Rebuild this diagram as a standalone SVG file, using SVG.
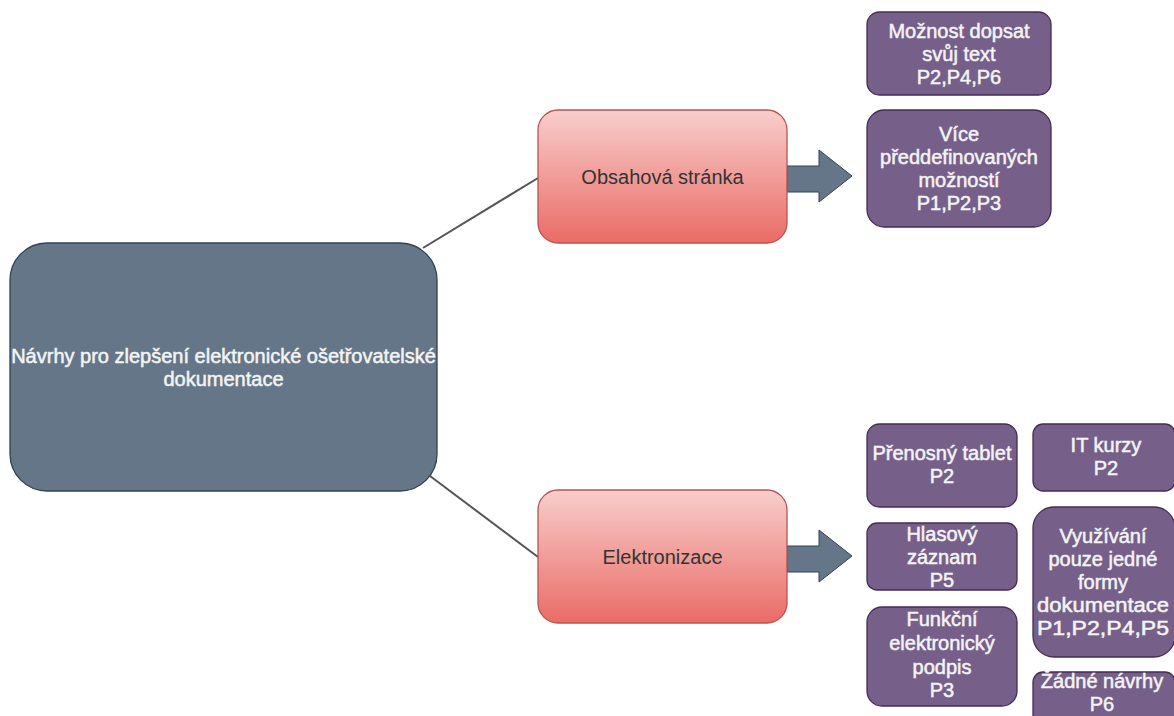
<svg xmlns="http://www.w3.org/2000/svg" width="1174" height="716" viewBox="0 0 1174 716">
  <defs>
    <linearGradient id="redFill" x1="0" y1="0" x2="0" y2="1">
      <stop offset="0" stop-color="#f8cecc"/>
      <stop offset="1" stop-color="#ea6b66"/>
    </linearGradient>
    <style>
      .root { fill: #647687; stroke: #314354; stroke-width: 1.3; }
      .topic { fill: url(#redFill); stroke: #b85450; stroke-width: 1.3; }
      .idea { fill: #76608a; stroke: #432d57; stroke-width: 1.3; }
      .arrow { fill: #647687; stroke: #314354; stroke-width: 1; }
      .link { stroke: #555555; stroke-width: 2; fill: none; }
      text { font-family: "Liberation Sans", Arial, Helvetica, sans-serif; font-size: 20px; text-anchor: middle; }
      .light { fill: #f4f4f4; stroke: #f4f4f4; stroke-width: 0.5; }
      .dark { fill: #333333; }
    </style>
  </defs>
  <rect width="1174" height="716" fill="#ffffff"/>

  <!-- connectors from the central node to the two topics -->
  <g id="connectors">
    <line class="link" x1="423" y1="248" x2="538" y2="178"/>
    <line class="link" x1="430" y1="476" x2="538" y2="557"/>
    <polygon class="arrow" points="787,166 819,166 819,150 852,176 819,202 819,192 787,192"/>
    <polygon class="arrow" points="787,546 819,546 819,530 852,556 819,582 819,572 787,572"/>
  </g>

  <!-- central node -->
  <g id="root">
    <rect class="root" x="10" y="243" width="427" height="248" rx="37" ry="37"/>
    <text class="light" x="223.5" y="362.5">Návrhy pro zlepšení elektronické ošetřovatelské</text>
    <text class="light" x="223.5" y="385.5">dokumentace</text>
  </g>

  <!-- topics -->
  <g id="topic-obsah">
    <rect class="topic" x="538" y="110" width="249" height="133" rx="20" ry="20"/>
    <text class="dark" x="662.5" y="183.5">Obsahová stránka</text>
  </g>
  <g id="topic-elektronizace">
    <rect class="topic" x="538" y="490" width="249" height="133" rx="20" ry="20"/>
    <text class="dark" x="662.5" y="563.5">Elektronizace</text>
  </g>

  <!-- ideas for the content topic -->
  <g id="idea-dopsat">
    <rect class="idea" x="867" y="12" width="184" height="83" rx="12.5" ry="12.5"/>
    <text class="light" x="959" y="37.5">Možnost dopsat</text>
    <text class="light" x="959" y="60.5">svůj text</text>
    <text class="light" x="959" y="83.5">P2,P4,P6</text>
  </g>
  <g id="idea-moznosti">
    <rect class="idea" x="867" y="110" width="184" height="117" rx="17.5" ry="17.5"/>
    <text class="light" x="959" y="141">Více</text>
    <text class="light" x="959" y="164">předdefinovaných</text>
    <text class="light" x="959" y="187">možností</text>
    <text class="light" x="959" y="210">P1,P2,P3</text>
  </g>

  <!-- ideas for the electronisation topic -->
  <g id="idea-tablet">
    <rect class="idea" x="867" y="424" width="150" height="83" rx="12.5" ry="12.5"/>
    <text class="light" x="942" y="460">Přenosný tablet</text>
    <text class="light" x="942" y="483">P2</text>
  </g>
  <g id="idea-hlas">
    <rect class="idea" x="867" y="523" width="150" height="67" rx="10" ry="10"/>
    <text class="light" x="942" y="541">Hlasový</text>
    <text class="light" x="942" y="564">záznam</text>
    <text class="light" x="942" y="587">P5</text>
  </g>
  <g id="idea-podpis">
    <rect class="idea" x="867" y="607" width="150" height="99" rx="15" ry="15"/>
    <text class="light" x="942" y="626">Funkční</text>
    <text class="light" x="942" y="650">elektronický</text>
    <text class="light" x="942" y="674">podpis</text>
    <text class="light" x="942" y="697">P3</text>
  </g>
  <g id="idea-kurzy">
    <rect class="idea" x="1033" y="424" width="142" height="67" rx="10" ry="10"/>
    <text class="light" x="1106" y="452">IT kurzy</text>
    <text class="light" x="1106" y="475">P2</text>
  </g>
  <g id="idea-forma">
    <rect class="idea" x="1033" y="507" width="142" height="150" rx="21" ry="21"/>
    <text class="light" x="1103" y="543">Využívání</text>
    <text class="light" x="1103" y="566">pouze jedné</text>
    <text class="light" x="1103" y="589">formy</text>
    <text class="light" x="1103" y="612" textLength="132" lengthAdjust="spacingAndGlyphs">dokumentace</text>
    <text class="light" x="1103" y="635" textLength="132" lengthAdjust="spacingAndGlyphs">P1,P2,P4,P5</text>
  </g>
  <g id="idea-zadne">
    <rect class="idea" x="1033" y="672" width="142" height="60" rx="10" ry="10"/>
    <text class="light" x="1102" y="688">Žádné návrhy</text>
    <text class="light" x="1102" y="711">P6</text>
  </g>
</svg>
